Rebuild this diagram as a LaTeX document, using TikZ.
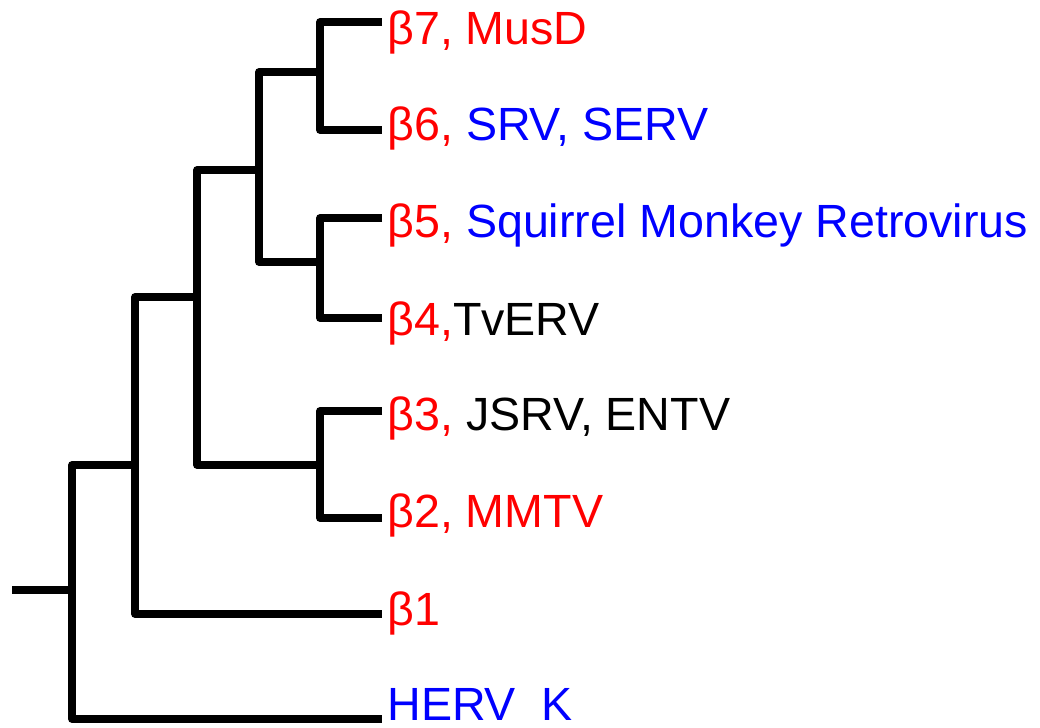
\documentclass[tikz,border=0pt]{standalone}
\usepackage{fontspec}
\setmainfont{Liberation Sans}
\usepackage{xcolor}
\definecolor{leafRed}{HTML}{FF0000}
\definecolor{leafBlue}{HTML}{0000FF}

\begin{document}
\begin{tikzpicture}[x=0.5pt, y=-0.5pt,
    branch/.style={line width=3.75pt, line join=round},
    leaf/.style={anchor=base west, inner sep=0pt, font=\fontsize{23.3}{27}\selectfont}]
    \useasboundingbox (0,0) rectangle (1040,728);
    % tips
    \coordinate (t7) at (382,22);
    \coordinate (t6) at (382,130);
    \coordinate (t5) at (382,218);
    \coordinate (t4) at (382,318);
    \coordinate (t3) at (382,411);
    \coordinate (t2) at (382,518);
    \coordinate (t1) at (382,614);
    \coordinate (therv) at (382,719);
    % inner nodes
    \coordinate (n76) at (320,72);
    \coordinate (n54) at (320,262);
    \coordinate (n74) at (259,170);
    \coordinate (n32) at (320,465);
    \coordinate (n72) at (197,297);
    \coordinate (n71) at (135,465);
    \coordinate (root) at (72,590);
    \coordinate (stub) at (12,590);
    % branches
    \draw[branch] (t7) -| (n76) |- (t6);
    \draw[branch] (t5) -| (n54) |- (t4);
    \draw[branch] (t3) -| (n32) |- (t2);
    \draw[branch] (n76) -| (n74) |- (n54);
    \draw[branch] (n74) -| (n72) |- (n32);
    \draw[branch] (n72) -| (n71) |- (t1);
    \draw[branch] (n71) -| (root) |- (therv);
    \draw[branch] (stub) -- (root);
    % labels
    \node[leaf] (l7) at (387,45) {\textcolor{leafRed}{β7, MusD}};
    \node[leaf] (l6) at (387,140) {\textcolor{leafRed}{β6,} \textcolor{leafBlue}{SRV, SERV}};
    \node[leaf] (l5) at (387,237) {\textcolor{leafRed}{β5,} \textcolor{leafBlue}{Squirrel Monkey Retrovirus}};
    \node[leaf] (l4) at (387,335) {\textcolor{leafRed}{β4,}TvERV};
    \node[leaf] (l3) at (387,430) {\textcolor{leafRed}{β3,} JSRV, ENTV};
    \node[leaf] (l2) at (387,527) {\textcolor{leafRed}{β2, MMTV}};
    \node[leaf] (l1) at (387,625) {\textcolor{leafRed}{β1}};
    \node[leaf] (lherv) at (387,720) {\textcolor{leafBlue}{HERV~~K}};
\end{tikzpicture}
\end{document}
